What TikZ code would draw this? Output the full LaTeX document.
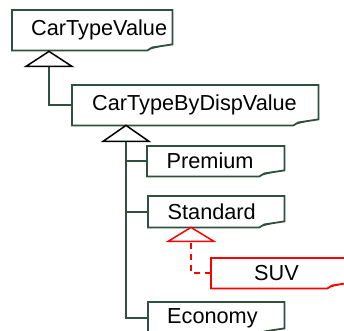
\documentclass[tikz,border=0pt]{standalone}
\usepackage{fontspec}
\setmainfont{Liberation Sans}
\definecolor{boxgreen}{HTML}{2F4F3F}
\tikzset{
  cls/.style={anchor=north west, draw=none, inner sep=0pt, align=left,
    font=\fontsize{21.7bp}{25bp}\selectfont},
  outline/.style={line width=1.8bp, draw=boxgreen, line join=miter},
  foldfill/.style={fill=boxgreen, draw=none},
  conn/.style={line width=1.8bp, draw=boxgreen},
  redconn/.style={line width=1.6bp, draw=red, dash pattern=on 6bp off 5bp},
  tri/.style={line width=1.5bp, draw=black, fill=white, line join=miter},
  redtri/.style={line width=1.5bp, draw=red, fill=white, line join=miter},
}
\begin{document}
\begin{tikzpicture}[x=1bp,y=-1bp]
\useasboundingbox (0,0) rectangle (344,331);
\begin{scope}
\clip (0,0) rectangle (344,331);
% nodes
\node[cls, minimum width=160bp, minimum height=40bp, text width=160bp] (a) at (12,10) {\hspace*{19bp}CarTypeValue};
\node[cls, minimum width=246bp, minimum height=40bp, text width=246bp] (b) at (72,85) {\hspace*{20bp}CarTypeByDispValue};
\node[cls, minimum width=137bp, minimum height=30bp, text width=137bp] (c) at (147,146) {\hspace*{19.5bp}Premium};
\node[cls, minimum width=136bp, minimum height=31bp, text width=136bp] (d) at (148,196) {\hspace*{19.5bp}Standard};
\node[cls, minimum width=141bp, minimum height=30bp, text width=141bp] (e) at (211,258) {\hspace*{43bp}SUV};
\node[cls, minimum width=136bp, minimum height=32bp, text width=136bp] (f) at (148,302) {\hspace*{19bp}Economy};
% outlines with folded corner
\foreach \n/\col in {a/boxgreen,b/boxgreen,c/boxgreen,d/boxgreen,e/red,f/boxgreen}{
  \draw[outline, draw=\col] (\n.south west) -- (\n.north west) -- (\n.north east)
     -- ([yshift=6bp]\n.south east) -- ([xshift=-20bp,yshift=3bp]\n.south east)
     -- ([xshift=-25bp]\n.south east) -- cycle;
  \fill[foldfill, fill=\col] ([xshift=-20bp,yshift=3bp]\n.south east)
     -- ([xshift=-8bp,yshift=4.6bp]\n.south east)
     -- ([xshift=-22bp,yshift=1bp]\n.south east) -- cycle;
}
% generalization coordinates
\coordinate (t1) at ([xshift=37bp,yshift=-1bp]a.south west);
\coordinate (t2) at ([xshift=54bp]b.south west);
\coordinate (t3) at ([xshift=43bp]d.south west);
\coordinate (t1b) at ([yshift=-15bp]t1);
\coordinate (t2b) at ([yshift=-16bp]t2);
\coordinate (t3b) at ([yshift=-14bp]t3);
% connectors
\draw[conn] (b.west) -| (t1b);
\draw[conn] (f.west) -| (t2b);
\draw[conn] (c.west) -- (c.west -| t2b);
\draw[conn] (d.west) -- (d.west -| t2b);
\draw[redconn] (e.west) -| (t3b);
% triangles
\draw[tri] (t1) -- ++(-23,15) -- ++(46,0) -- cycle;
\draw[tri] (t2) -- ++(-23,16) -- ++(46,0) -- cycle;
\draw[redtri] (t3) -- ++(-23,14) -- ++(46,0) -- cycle;
\end{scope}
\end{tikzpicture}
\end{document}
